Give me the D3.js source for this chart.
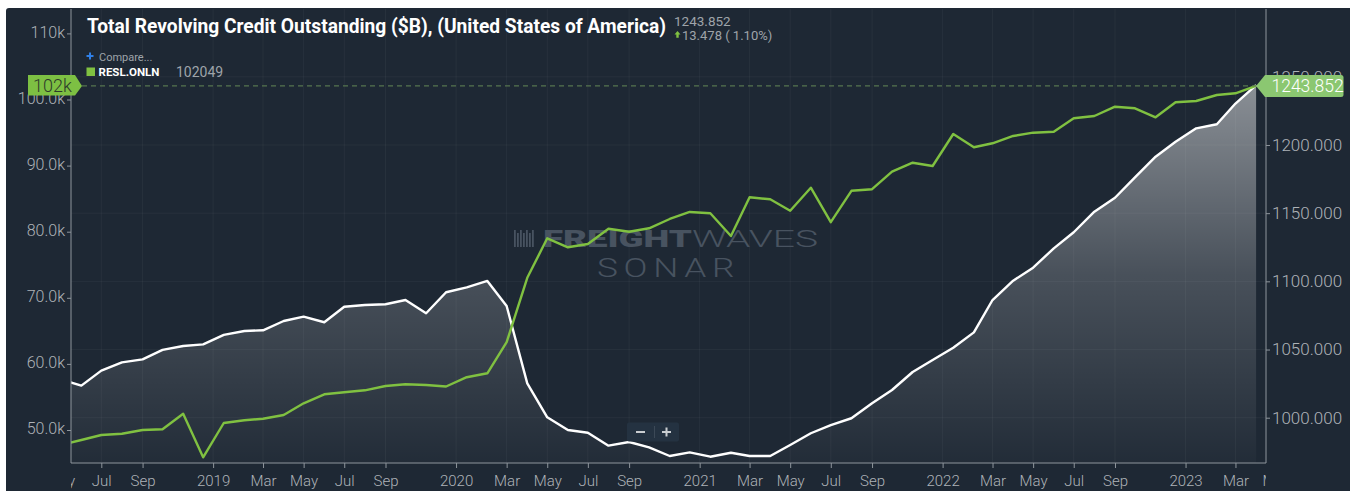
<!DOCTYPE html>
<html><head><meta charset="utf-8">
<script src="https://cdn.jsdelivr.net/npm/d3@7"></script>
<style>
html,body{margin:0;padding:0;background:#fff;overflow:hidden;}
svg{display:block;font-family:Roboto,"Noto Sans",sans-serif;}
</style>
</head><body>
<svg id="chart" width="1350" height="491"></svg>
<script>
// ---------- data ----------
const months = [
 "2018-05","2018-06","2018-07","2018-08","2018-09","2018-10","2018-11","2018-12",
 "2019-01","2019-02","2019-03","2019-04","2019-05","2019-06","2019-07","2019-08","2019-09","2019-10","2019-11","2019-12",
 "2020-01","2020-02","2020-03","2020-04","2020-05","2020-06","2020-07","2020-08","2020-09","2020-10","2020-11","2020-12",
 "2021-01","2021-02","2021-03","2021-04","2021-05","2021-06","2021-07","2021-08","2021-09","2021-10","2021-11","2021-12",
 "2022-01","2022-02","2022-03","2022-04","2022-05","2022-06","2022-07","2022-08","2022-09","2022-10","2022-11","2022-12",
 "2023-01","2023-02","2023-03","2023-04"];
// Total Revolving Credit Outstanding ($B) - right axis (white)
const revolvingCredit = [
 1028.2,1023.5,1034.5,1040.6,1042.8,1049.7,1052.6,1053.8,
 1060.7,1063.6,1064.1,1070.9,1074.1,1070.0,1081.4,1082.7,1083.2,1086.3,1076.6,1092.0,
 1095.6,1100.3,1081.9,1025.2,1000.3,991.0,989.0,979.5,982.2,978.3,971.9,974.6,
 971.4,974.3,971.9,971.9,980.0,988.6,994.6,999.6,1010.6,1020.3,1033.5,1042.3,
 1051.3,1062.6,1086.3,1100.5,1110.0,1124.2,1136.0,1151.1,1161.3,1176.3,1191.4,1202.4,
 1212.2,1215.2,1230.374,1243.852];
// RESL.ONLN - left axis (green)
const nonstoreSales = [
 47730,48487,49244,49440,50000,50106,52466,45870,
 51059,51468,51710,52269,54040,55401,55704,56006,56657,56914,56808,56581,
 57988,58578,63283,73027,79003,77641,78140,80455,80001,80516,81923,82982,
 82786,79351,85206,84903,83179,86658,81439,86189,86431,89079,90440,89941,
 94782,92770,93375,94480,94979,95130,97158,97506,98913,98671,97309,99578,
 99775,100683,100940,102049];

const xTickDates = ["2018-05-17","2018-07-17","2018-09-17","2019-01-01","2019-03-17","2019-05-17","2019-07-17","2019-09-17",
 "2020-01-01","2020-03-17","2020-05-17","2020-07-17","2020-09-17","2021-01-01","2021-03-17","2021-05-17","2021-07-17","2021-09-17",
 "2022-01-01","2022-03-17","2022-05-17","2022-07-17","2022-09-17","2023-01-01","2023-03-17","2023-05-17"];
const xTickLabels = ["May","Jul","Sep","2019","Mar","May","Jul","Sep","2020","Mar","May","Jul","Sep","2021","Mar","May","Jul","Sep",
 "2022","Mar","May","Jul","Sep","2023","Mar","May"];
const leftTicks = [50000,60000,70000,80000,90000,100000,110000];
const leftTickLabels = ["50.0k","60.0k","70.0k","80.0k","90.0k","100.0k","110k"];
const rightTicks = [1000,1050,1100,1150,1200,1250];
const rightTickLabels = ["1000.000","1050.000","1100.000","1150.000","1200.000","1250.000"];

const titleText = "Total Revolving Credit Outstanding ($B), (United States of America)";
const lastValueText = "1243.852";
const changeText = "13.478 ( 1.10%)";
const seriesName = "RESL.ONLN";
const seriesLast = "102049";
const leftBadge = "102k";

// ---------- layout ----------
const L = 71, R = 1266, T = 9, B = 463;
const BG = "#1e2834";
const GREEN = "#80c141";
const svg = d3.select("#chart");

const parseMonth = s => { const [y,m] = s.split("-").map(Number); return new Date(y, m-1, 17); };
const parseDay = s => { const [y,m,d] = s.split("-").map(Number); return new Date(y, m-1, d); };

const white = months.map((m,i)=>({date:parseMonth(m), v:revolvingCredit[i]}));
const green = months.map((m,i)=>({date:parseMonth(m), v:nonstoreSales[i]}));

const x = d3.scaleTime().domain([new Date(2018,6,17), new Date(2023,3,17)]).range([101.3,1256.1]);
const yL = d3.scaleLinear().domain([50000,110000]).range([430,33.4]);
const yR = d3.scaleLinear().domain([1000,1250]).range([417.7,76.8]);

const defs = svg.append("defs");
defs.append("clipPath").attr("id","plotClip").append("rect").attr("x",L).attr("y",T).attr("width",R-L).attr("height",B-T);
defs.append("clipPath").attr("id","xClip").append("rect").attr("x",L).attr("y",B).attr("width",R-L).attr("height",491-B);
const grad = defs.append("linearGradient").attr("id","fillGrad").attr("gradientUnits","userSpaceOnUse")
  .attr("x1",0).attr("x2",0).attr("y1",85).attr("y2",B);
grad.append("stop").attr("offset",0).attr("stop-color","#fff").attr("stop-opacity",0.48);
grad.append("stop").attr("offset",0.5).attr("stop-color","#fff").attr("stop-opacity",0.19);
grad.append("stop").attr("offset",1).attr("stop-color","#fff").attr("stop-opacity",0.02);

// background
svg.append("rect").attr("width",1350).attr("height",491).attr("fill","#fff");
svg.append("rect").attr("x",6).attr("y",8).attr("width",1350).attr("height",491).attr("rx",3).attr("fill",BG);

// grid
const xTicks = xTickDates.map(parseDay);
const grid = svg.append("g").attr("clip-path","url(#plotClip)");
grid.selectAll("line.v").data(xTicks).join("line")
  .attr("x1",d=>x(d)).attr("x2",d=>x(d)).attr("y1",T).attr("y2",B)
  .attr("stroke","rgba(255,255,255,0.045)");
grid.selectAll("line.h").data(rightTicks).join("line")
  .attr("x1",L).attr("x2",R).attr("y1",d=>yR(d)).attr("y2",d=>yR(d))
  .attr("stroke","rgba(255,255,255,0.045)");

// watermark
const wm = svg.append("g").attr("fill","#485360");
[0,3,6,9,12,15,18].forEach((o,i)=>{
  wm.append("rect").attr("x",514+o).attr("y", i%2? 233:230).attr("width",1.8).attr("height", i%2? 14:17);
});
wm.append("text").attr("x",543).attr("y",247).attr("font-size",24).attr("font-weight",900)
  .attr("textLength",149).attr("lengthAdjust","spacingAndGlyphs").text("FREIGHT");
wm.append("text").attr("x",692).attr("y",247).attr("font-size",24).attr("font-weight",300)
  .attr("textLength",126).attr("lengthAdjust","spacingAndGlyphs").text("WAVES");
wm.append("text").attr("x",597).attr("y",277).attr("font-size",25).attr("font-weight",300)
  .attr("letter-spacing",4)
  .attr("textLength",143).attr("lengthAdjust","spacingAndGlyphs").text("SONAR");

// area + lines
const plot = svg.append("g").attr("clip-path","url(#plotClip)");
plot.append("path").datum(white)
  .attr("d", d3.area().x(d=>x(d.date)).y0(B).y1(d=>yR(d.v)))
  .attr("fill","url(#fillGrad)");
plot.append("path").datum(white)
  .attr("d", d3.line().x(d=>x(d.date)).y(d=>yR(d.v)))
  .attr("fill","none").attr("stroke","#fff").attr("stroke-width",2.4).attr("stroke-linejoin","round");
plot.append("path").datum(green)
  .attr("d", d3.line().x(d=>x(d.date)).y(d=>yL(d.v)))
  .attr("fill","none").attr("stroke",GREEN).attr("stroke-width",2.4).attr("stroke-linejoin","round");

// dashed last-value line
const lastY = yL(nonstoreSales[nonstoreSales.length-1]);
const lastX = x(white[white.length-1].date);
svg.append("line").attr("x1",82).attr("x2",lastX).attr("y1",lastY).attr("y2",lastY)
  .attr("stroke","#56744f").attr("stroke-dasharray","5,4").attr("stroke-width",1.2);

// axes
const AX = "#8e959c", TXT = "#aeb3b8";
svg.append("line").attr("x1",L).attr("x2",L).attr("y1",T).attr("y2",B).attr("stroke",AX);
svg.append("line").attr("x1",R).attr("x2",R).attr("y1",T).attr("y2",B).attr("stroke",AX);
svg.append("line").attr("x1",L).attr("x2",R).attr("y1",B).attr("y2",B).attr("stroke",AX);

const gL = svg.append("g").attr("transform",`translate(${L},0)`)
  .call(d3.axisLeft(yL).tickValues(leftTicks).tickFormat((d,i)=>leftTickLabels[i]).tickSize(4).tickPadding(2));
gL.select(".domain").remove();
gL.selectAll("line").attr("stroke",AX);
gL.selectAll("text").attr("fill",TXT).attr("font-size",16).attr("font-weight",300).attr("font-family","Roboto").attr("dy","0.24em");

const gR = svg.append("g").attr("transform",`translate(${R},0)`)
  .call(d3.axisRight(yR).tickValues(rightTicks).tickFormat((d,i)=>rightTickLabels[i]).tickSize(4).tickPadding(2));
gR.select(".domain").remove();
gR.selectAll("line").attr("stroke",AX);
gR.selectAll("text").attr("fill",TXT).attr("font-size",17).attr("font-weight",300).attr("font-family","Roboto");

const gB = svg.append("g").attr("clip-path","url(#xClip)").append("g").attr("transform",`translate(0,${B})`)
  .call(d3.axisBottom(x).tickValues(xTicks).tickFormat((d,i)=>xTickLabels[i]).tickSize(5).tickPadding(7));
gB.select(".domain").remove();
gB.selectAll("line").attr("stroke",AX);
gB.selectAll("text").attr("fill",TXT).attr("font-size",15).attr("font-weight",300).attr("font-family","Roboto");

// value badges
const rb = svg.append("g");
rb.append("path").attr("d",`M${lastX},${lastY} L${R-1},75 H1341 Q1343.5,75 1343.5,77.5 V94.5 Q1343.5,97 1341,97 H${R-1} Z`).attr("fill","#8bc771");
rb.append("text").attr("x",1271.5).attr("y",lastY+6).attr("font-size",17.5).attr("font-weight",300).attr("fill","#fff").text(lastValueText);

const lb = svg.append("g");
lb.append("path").attr("d",`M28,75 H75 L82,${lastY} L75,95.5 H28 Z`).attr("fill","#7dc043");
lb.append("text").attr("x",33).attr("y",lastY+6.5).attr("font-size",18).attr("font-weight",300).attr("fill","#2d3a2b").text(leftBadge);

// title & header
svg.append("text").attr("x",87).attr("y",33).attr("font-size",20).attr("font-weight",700).attr("fill","#fff")
  .attr("textLength",579).attr("lengthAdjust","spacingAndGlyphs").text(titleText);
svg.append("text").attr("x",674).attr("y",26).attr("font-size",13.5).attr("fill","#9ea4aa").text(lastValueText);
svg.append("path").attr("d","M677.5,31 l3,3.5 h-1.8 v3.2 h-2.4 v-3.2 h-1.8 z").attr("fill",GREEN);
svg.append("text").attr("x",682).attr("y",40).attr("font-size",13).attr("fill","#9ea4aa").text(changeText);

// compare + legend
svg.append("path").attr("d","M86.5,56 h7 M90,52.5 v7").attr("stroke","#2f7fe6").attr("stroke-width",2);
svg.append("text").attr("x",99).attr("y",60.5).attr("font-size",11).attr("fill","#9ea4aa").text("Compare...");
svg.append("rect").attr("x",86.5).attr("y",67.5).attr("width",8.5).attr("height",8.5).attr("fill",GREEN);
svg.append("text").attr("x",98.5).attr("y",76).attr("font-size",11.5).attr("font-weight",700).attr("fill","#fff")
  .attr("textLength",61).attr("lengthAdjust","spacingAndGlyphs").text(seriesName);
svg.append("text").attr("x",176).attr("y",76.5).attr("font-size",14).attr("fill","#9ea4aa").text(seriesLast);

// zoom control
const zc = svg.append("g");
zc.append("rect").attr("x",627).attr("y",422.5).attr("width",52).attr("height",19).attr("rx",2).attr("fill","#243241");
zc.append("line").attr("x1",636).attr("x2",645).attr("y1",432).attr("y2",432).attr("stroke","#c9cdd1").attr("stroke-width",2);
zc.append("line").attr("x1",654.5).attr("x2",654.5).attr("y1",426).attr("y2",438).attr("stroke","#3c4957");
zc.append("path").attr("d","M662,432 h9 M666.5,427.5 v9").attr("stroke","#c9cdd1").attr("stroke-width",2);
</script>
</body></html>
